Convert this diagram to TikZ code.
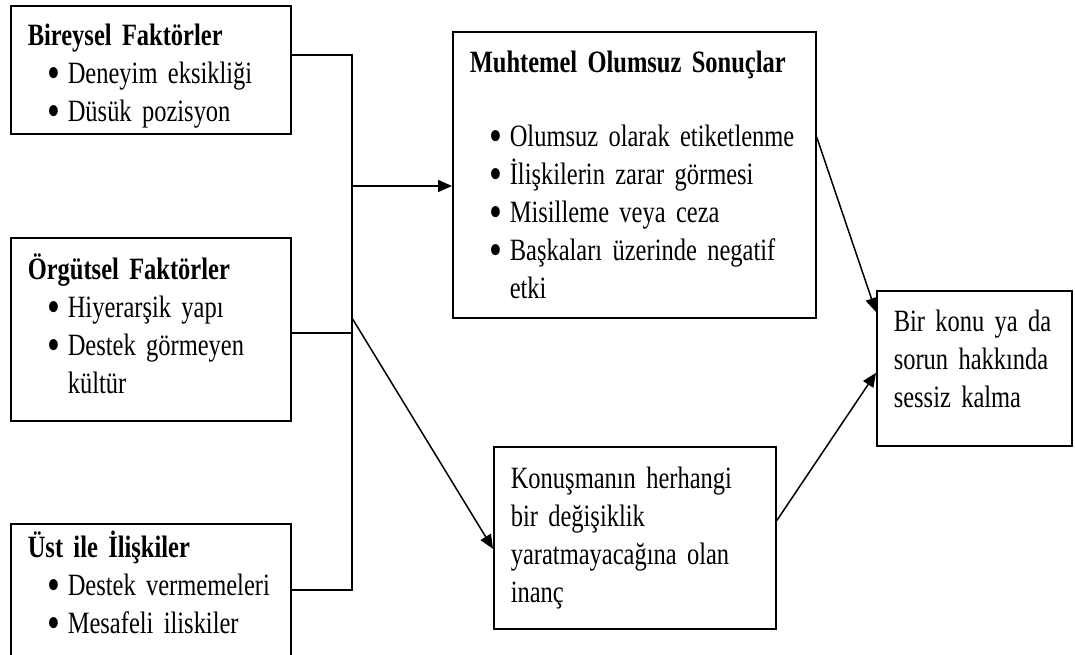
\documentclass[tikz,border=0pt]{standalone}
\usepackage{fontspec}
\setmainfont[FakeStretch=0.79,WordSpace=0.8]{Liberation Serif}
\usetikzlibrary{positioning,arrows.meta}
\newcommand{\itm}[1]{\par\noindent\hangindent=40pt\hangafter=1\hspace*{20pt}%
    \makebox[20pt][l]{\smash{\raisebox{-5pt}{\scalebox{1.5}{\textbullet}}}}#1\par}

\begin{document}
\begin{tikzpicture}[x=1pt,y=-1pt,
    box/.style={draw,line width=1.6pt,rectangle,anchor=north west,align=left,inner xsep=17pt,
                font=\fontsize{31}{38}\selectfont,text height=22pt},
    link/.style={line width=1.5pt},
    >={Triangle[length=14pt,width=12pt]}]
\useasboundingbox (0,0) rectangle (1075,654);
\fill[white] (0,0) rectangle (1075,654);
\clip (0,0) rectangle (1075,654);
% factors on the left
\node[box,text width=246pt,inner ysep=18pt,text depth=70pt] (fac_1) at (10,5)
    {\textbf{Bireysel Faktörler}\itm{Deneyim eksikliği}\itm{Düsük pozisyon}};
\node[box,text width=246pt,inner ysep=20pt,text depth=121pt] (fac_2) at (10,237)
    {\textbf{Örgütsel Faktörler}\itm{Hiyerarşik yapı}\itm{Destek görmeyen\newline kültür}};
\node[box,text width=246pt,inner ysep=12pt,text depth=94pt] (fac_3) at (10,523)
    {\textbf{Üst ile İlişkiler}\itm{Destek vermemeleri}\itm{Mesafeli iliskiler}};
% results
\node[box,text width=329pt,inner ysep=19pt,text depth=226pt] (res_1) at (452,31)
    {\textbf{Muhtemel Olumsuz Sonuçlar}\par\vspace{36pt}\itm{Olumsuz olarak etiketlenme}%
     \itm{İlişkilerin zarar görmesi}\itm{Misilleme veya ceza}\itm{Başkaları üzerinde negatif\newline etki}};
\node[box,text width=248pt,inner ysep=20pt,text depth=120pt] (res_2) at (493,446)
    {Konuşmanın herhangi\\bir değişiklik\\yaratmayacağına olan\\inanç};
\node[box,text width=161pt,inner ysep=19pt,text depth=95pt] (out) at (876,290)
    {Bir konu ya da\\sorun hakkında\\sessiz kalma};
% connectors
\coordinate (j_1) at (352,55);
\coordinate (j_2) at (352,333);
\coordinate (j_3) at (352,590);
\coordinate (j_m) at (352,186);
\coordinate (j_d) at (352,318);
\draw[link] (j_1 -| fac_1.east) -- (j_1) -- (j_3) -- (j_3 -| fac_3.east);
\draw[link] (j_2 -| fac_2.east) -- (j_2);
\draw[link,->] (j_m) -- (j_m -| res_1.west);
\draw[link,->] (j_d) -- ([yshift=-11pt]res_2.west);
\draw[link,->] ([yshift=38pt]res_1.east) -- ([yshift=-22pt]out.north west);
\draw[link,->] ([yshift=17pt]res_2.east) -- ([yshift=-4.5pt]out.west);
\end{tikzpicture}
\end{document}
